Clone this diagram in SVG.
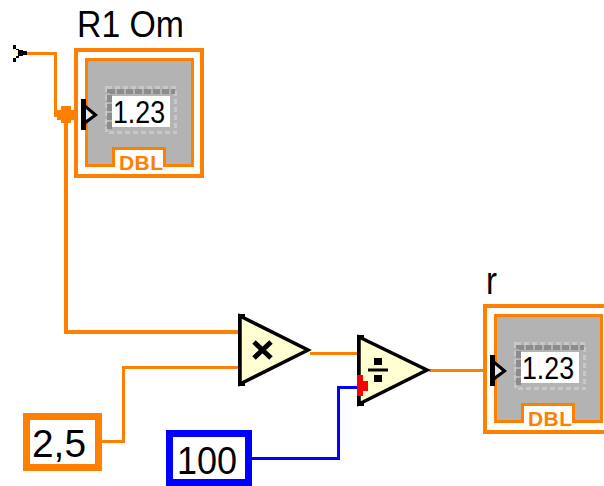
<svg xmlns="http://www.w3.org/2000/svg" width="604" height="486" viewBox="0 0 604 486">
<style>
.w{fill:none;stroke-linejoin:miter;shape-rendering:crispEdges}
.o{stroke:#ff8000;stroke-width:3}
.b{stroke:#0000ff;stroke-width:3}
.t{font-family:"Liberation Sans",Arial,sans-serif;fill:#000}
.f{fill:#ffffd2;stroke:#000;stroke-width:3.500;stroke-linejoin:miter}
.gray{fill:#b3b3b3;stroke:#ff8000;stroke-width:3;shape-rendering:crispEdges}
.tag{fill:#fff;stroke:#ff8000;stroke-width:3;shape-rendering:crispEdges}
.pale{fill:#b3b3b3;stroke:#c8c8c8;stroke-width:3;stroke-dasharray:5 3;shape-rendering:crispEdges}
.dark{fill:none;stroke:#8c8c8c;stroke-width:5;stroke-dasharray:7 2;shape-rendering:crispEdges}
</style>
<defs>
<g id="indicator">
<rect x="76" y="50" width="126" height="126" fill="#fff" stroke="#ff8000" stroke-width="4" shape-rendering="crispEdges"/>
<rect class="gray" x="86.500" y="59.500" width="106" height="106"/>
<path class="tag" d="M113.500 166V148.500H164.500V166"/>
<rect x="115" y="150" width="48" height="24" fill="#fff"/>
<rect class="pale" x="106.500" y="87.500" width="69" height="45"/>
<path class="dark" d="M109.500 129V91.500H175"/>
<rect x="112" y="96" width="58" height="31" fill="#fff"/>
<path d="M81 99H86V105L98 115L86 124V130H81Z" fill="#000"/>
<path d="M86 109L93 115L86 120Z" fill="#e6e6e6"/>
</g>
</defs>
<g id="connectors">
<path class="w o" d="M27 53H55V115H81"/>
<path class="w" stroke="#ff8000" stroke-width="4" d="M66 115V332H238"/>
<path class="w o" d="M102 441H123V367H238"/>
<path class="w o" d="M310 353H357"/>
<path class="w o" d="M429 370H491"/>
<path class="w b" d="M252 458H338V387H357"/>
<path d="M61 106H71V110H75V120H71V123H61V120H57V110H61Z" fill="#ff8000" shape-rendering="crispEdges"/>
</g>
<g id="input-r1">
<path d="M13 49L24 53L13 58Z" fill="#ffffd2"/>
<path d="M13 45H16V49H19V50H23V51H27V55H23V56H19V58H16V62H13V58H16V56H18V50H16V49H13Z" fill="#000" shape-rendering="crispEdges"/>
</g>
<g id="indicator-r1">
<text class="t" x="77" y="37" font-size="36" textLength="107" lengthAdjust="spacingAndGlyphs">R1 Om</text>
<use href="#indicator"/>
<text class="t" x="113" y="123" font-size="32" textLength="52" lengthAdjust="spacingAndGlyphs">1.23</text>
<text x="119" y="170" font-family="Liberation Sans,Arial,sans-serif" font-weight="700" font-size="21" fill="#ff8000" textLength="44" lengthAdjust="spacing">DBL</text>
</g>
<g id="multiply">
<path class="f" d="M240 316V384L308 350Z"/>
<path d="M238 314H245V318H241V382H245V386H238Z" fill="#000" shape-rendering="crispEdges"/>
<path d="M254 342L271 358M271 342L254 358" fill="none" stroke="#000" stroke-width="5"/>
</g>
<g id="divide">
<path class="f" d="M359 337V404L427 370Z"/>
<path d="M357 335H364V339H360V402H364V406H357Z" fill="#000" shape-rendering="crispEdges"/>
<path d="M368 370H388" stroke="#000" stroke-width="3"/>
<rect x="374" y="358" width="8" height="7" fill="#000"/>
<rect x="374" y="375" width="8" height="7" fill="#000"/>
<path d="M357 375H363V381H368V391H363V396H357Z" fill="#ff0000" shape-rendering="crispEdges"/>
</g>
<g id="indicator-r">
<text class="t" x="486" y="294" font-size="38" textLength="11" lengthAdjust="spacingAndGlyphs">r</text>
<use href="#indicator" x="409" y="256"/>
<text class="t" x="522" y="379" font-size="32" textLength="52" lengthAdjust="spacingAndGlyphs">1.23</text>
<text x="528" y="426" font-family="Liberation Sans,Arial,sans-serif" font-weight="700" font-size="21" fill="#ff8000" textLength="44" lengthAdjust="spacing">DBL</text>
</g>
<g id="constant-2-5">
<rect x="26.500" y="416.500" width="72" height="51" fill="#fff" stroke="#ff8000" stroke-width="7" shape-rendering="crispEdges"/>
<text class="t" x="32" y="457" font-size="38" textLength="54" lengthAdjust="spacingAndGlyphs">2,5</text>
</g>
<g id="constant-100">
<rect x="169.500" y="433.500" width="79" height="49" fill="#fff" stroke="#0000ff" stroke-width="7" shape-rendering="crispEdges"/>
<text class="t" x="177" y="474" font-size="38" textLength="60" lengthAdjust="spacingAndGlyphs">100</text>
</g>
</svg>
